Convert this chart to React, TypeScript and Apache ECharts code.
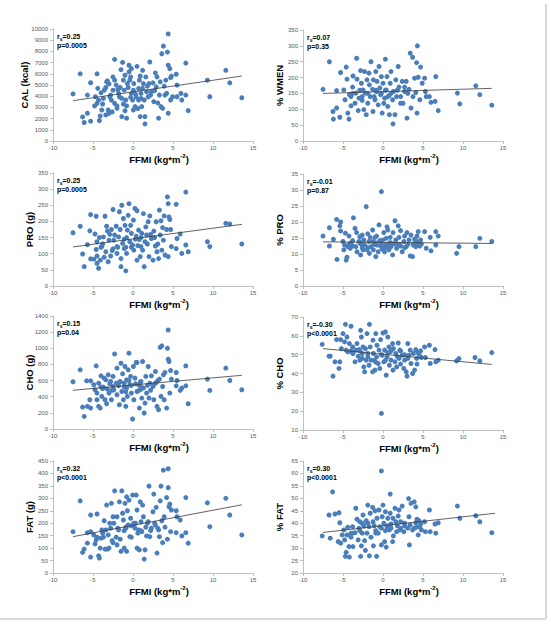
import React, { useEffect, useRef } from 'react';
import * as echarts from 'echarts';

const xAxisTitle = 'FFMI (kg*m{sup|-2})';
const yTitles = ['CAL (kcal)', '% WMEN', 'PRO (g)', '% PRO', 'CHO (g)', '% CHO', 'FAT (g)', '% FAT'];
const yMins = [0, 0, 0, 0, 0, 10, 0, 20];
const yMaxs = [10000, 350, 350, 35, 1400, 70, 450, 65];
const yIntervals = [1000, 50, 50, 5, 200, 10, 50, 5];
const rsValues = ['0.25', '0.07', '0.25', '-0.01', '0.15', '-0.30', '0.32', '0.30'];
const pValues = ['p=0.0005', 'p=0.35', 'p=0.0005', 'p=0.87', 'p=0.04', 'p<0.0001', 'p<0.0001', 'p<0.0001'];

const calData = [[-7.5,4200],[-6.6,6000],[-6.3,2150],[-6.1,1650],[-5.7,2480],[-5.3,5200],[-5.3,1770],[-5.7,4100],[-4.5,6000],[-4.7,3950],[-4.4,4700],[-4.3,3650],[-4.2,1830],[-4.1,2240],[-4.8,3130],[-4.5,3360],[-3.9,2770],[-3.7,3800],[-3.6,4540],[-3.4,4780],[-3.3,5280],[-3.2,5370],[-3.1,2770],[-3.0,2480],[-3.4,2330],[-2.9,3950],[-2.7,3650],[-2.5,4540],[-2.3,7290],[-2.5,5720],[-2.3,5430],[-2.1,4990],[-2.3,3360],[-2.0,3130],[-2.0,2920],[-1.8,4250],[-1.7,3950],[-1.6,4780],[-1.5,6370],[-1.4,3800],[-1.4,2180],[-1.3,7020],[-1.2,5430],[-1.1,4540],[-1.0,5870],[-0.9,3660],[-0.8,2040],[-0.8,3130],[-0.7,5130],[-0.6,4780],[-0.5,6170],[-0.5,6760],[-0.4,5430],[-0.3,5720],[-0.2,6460],[-0.2,4250],[-0.05,3660],[0.05,4540],[0.05,2770],[0.1,5130],[0.25,3070],[0.4,3950],[0.5,6670],[0.7,4690],[0.7,3660],[0.8,5430],[0.9,2180],[1.0,4250],[1.1,3070],[1.2,6310],[1.3,5130],[1.4,3660],[1.5,2180],[1.5,1530],[1.6,5720],[1.7,4400],[1.9,3950],[2.0,5130],[2.1,7050],[2.3,4400],[2.5,5190],[2.6,3510],[2.8,6080],[2.9,4840],[3.0,5720],[3.2,2040],[3.3,4100],[3.4,5280],[3.5,3070],[3.6,7790],[3.7,2920],[3.8,8470],[3.9,4900],[4.0,4100],[4.1,5430],[4.2,4250],[4.3,7940],[4.4,9560],[4.4,6760],[4.4,2480],[4.6,6460],[4.7,5660],[4.7,3660],[4.8,5780],[4.95,3950],[5.4,5960],[5.5,4990],[5.5,3950],[6.0,4250],[6.1,3660],[6.6,6960],[6.9,2710],[6.6,4100],[9.3,5430],[9.6,3950],[11.6,6310],[12.1,5190],[13.6,3860],[-3.8,3300],[-2.8,4100],[-1.9,4600],[-1.2,3300],[-0.3,3900],[0.3,4200],[1.0,3800],[1.8,4900],[2.2,4100],[-2.6,2600],[-1.0,2700],[0.6,2900],[1.2,4700],[2.7,4500],[3.1,3400],[-4.0,4300],[-3.0,5100],[0.9,5800]];

const wmenData = [[-7.5,163],[-6.7,250],[-6.25,93],[-6.2,69],[-5.8,159],[-5.3,216],[-5.4,75],[-5.8,104],[-4.9,161],[-4.75,130],[-4.6,233],[-4.5,195],[-4.4,88],[-4.25,69],[-4.2,146],[-4.0,111],[-3.8,170],[-3.75,205],[-3.5,119],[-3.4,151],[-3.3,261],[-3.25,195],[-3.1,96],[-3.0,135],[-2.8,222],[-2.7,182],[-2.6,128],[-2.5,161],[-2.4,99],[-2.3,219],[-2.2,151],[-2.1,83],[-2.0,193],[-1.9,119],[-1.75,214],[-1.7,177],[-1.6,140],[-1.5,250],[-1.3,163],[-1.25,93],[-1.2,193],[-1.0,130],[-0.9,219],[-0.8,156],[-0.75,188],[-0.6,114],[-0.5,235],[-0.4,167],[-0.3,146],[-0.2,203],[-0.1,88],[0.0,182],[0.1,119],[0.2,135],[0.3,258],[0.4,161],[0.5,203],[0.6,109],[0.75,143],[0.8,83],[0.9,182],[1.0,219],[1.2,130],[1.25,54],[1.3,156],[1.5,83],[1.6,193],[1.7,140],[1.9,235],[2.0,170],[2.2,119],[2.4,188],[2.5,119],[2.7,156],[2.9,188],[3.0,72],[3.25,163],[3.4,277],[3.5,104],[3.7,264],[3.75,140],[3.95,198],[4.1,153],[4.2,247],[4.25,88],[4.3,300],[4.4,201],[4.6,130],[4.7,233],[4.9,182],[5.2,198],[5.3,156],[5.4,140],[5.8,140],[6.0,122],[6.5,125],[6.6,203],[6.9,96],[9.3,151],[9.6,117],[11.6,174],[12.1,146],[13.6,113],[-3.8,150],[-2.9,160],[-1.9,150],[-1.1,140],[-0.2,150],[0.3,160],[1.0,150],[1.8,160],[2.2,140],[-2.6,140],[-0.9,160],[0.6,140],[2.7,170],[3.1,150],[-4.0,140]];

const proData = [[-7.5,165],[-6.6,185],[-6.3,99],[-6.1,60],[-5.7,128],[-5.3,221],[-5.4,171],[-5.3,84],[-4.9,83],[-4.75,161],[-4.6,216],[-4.6,113],[-4.5,70],[-4.5,93],[-4.3,55],[-4.5,137],[-4.2,150],[-4.1,80],[-3.9,122],[-3.7,152],[-3.6,89],[-3.5,216],[-3.4,106],[-3.3,185],[-3.2,170],[-3.1,75],[-3.0,142],[-2.8,93],[-2.7,175],[-2.5,115],[-2.5,237],[-2.4,142],[-2.3,158],[-2.1,185],[-2.0,101],[-2.0,122],[-1.8,152],[-1.7,230],[-1.6,175],[-1.5,60],[-1.5,85],[-1.4,250],[-1.3,132],[-1.2,209],[-1.1,116],[-1.0,188],[-0.9,47],[-0.8,150],[-0.8,101],[-0.7,173],[-0.6,219],[-0.5,255],[-0.4,137],[-0.3,188],[-0.2,163],[-0.05,127],[0.05,204],[0.1,111],[0.25,240],[0.4,154],[0.5,80],[0.5,233],[0.7,173],[0.8,144],[0.9,91],[1.0,122],[1.1,163],[1.2,111],[1.3,224],[1.4,60],[1.5,137],[1.6,183],[1.7,158],[1.9,199],[2.0,91],[2.1,217],[2.3,147],[2.5,80],[2.6,170],[2.8,124],[2.9,199],[3.0,106],[3.2,85],[3.3,235],[3.4,158],[3.5,202],[3.6,111],[3.7,181],[3.8,142],[3.9,217],[4.0,96],[4.2,175],[4.3,276],[4.4,255],[4.4,91],[4.5,214],[4.6,206],[4.7,175],[4.8,122],[5.4,253],[5.4,116],[5.5,147],[5.9,161],[6.1,101],[6.6,291],[6.6,127],[6.9,106],[9.3,137],[9.6,122],[11.6,194],[12.1,192],[13.6,130],[-3.8,130],[-2.9,160],[-1.9,120],[-1.1,145],[-0.2,120],[0.3,145],[1.0,150],[1.8,130],[2.2,160],[-2.6,110],[-0.9,120],[0.6,125],[2.7,150],[3.1,130],[-4.0,120]];

const proPctData = [[-7.5,15.6],[-6.7,18.2],[-6.7,12.5],[-6.2,14.6],[-5.8,20.8],[-5.75,8.3],[-5.4,18.8],[-5.3,17.2],[-5.3,20.0],[-5.0,13.9],[-4.9,11.3],[-4.8,12.8],[-4.7,16.5],[-4.6,8.1],[-4.5,9.0],[-4.4,12.3],[-4.25,15.6],[-4.2,13.1],[-4.1,11.8],[-3.8,14.2],[-3.7,21.3],[-3.5,18.0],[-3.4,12.3],[-3.3,16.7],[-3.25,10.7],[-3.0,13.9],[-2.9,15.4],[-2.8,9.7],[-2.7,13.0],[-2.6,15.9],[-2.5,11.3],[-2.4,14.4],[-2.3,12.8],[-2.1,24.8],[-2.0,11.3],[-1.9,16.3],[-1.75,13.9],[-1.7,10.2],[-1.6,15.2],[-1.5,12.3],[-1.3,17.5],[-1.25,13.9],[-1.2,11.3],[-1.0,15.2],[-0.9,9.2],[-0.8,15.6],[-0.75,12.8],[-0.6,10.7],[-0.5,19.1],[-0.4,14.2],[-0.3,12.5],[-0.2,29.5],[-0.1,11.5],[0.0,14.4],[0.1,16.7],[0.2,10.7],[0.3,12.8],[0.4,14.9],[0.5,18.5],[0.6,17.5],[0.75,11.3],[0.8,13.5],[0.9,15.2],[1.0,12.3],[1.2,9.7],[1.25,16.7],[1.3,13.1],[1.5,20.4],[1.6,14.4],[1.7,11.8],[1.9,18.8],[2.0,15.2],[2.1,12.8],[2.2,17.3],[2.4,10.7],[2.6,13.9],[2.7,15.6],[2.9,12.3],[3.0,16.7],[3.25,14.4],[3.4,9.4],[3.5,15.9],[3.7,9.2],[3.75,13.1],[3.95,14.6],[4.1,12.3],[4.2,13.9],[4.25,15.6],[4.4,17.0],[4.5,12.8],[4.7,14.4],[4.8,13.1],[5.2,17.0],[5.4,11.8],[5.9,15.2],[6.0,11.0],[6.6,17.0],[6.6,12.8],[6.9,15.6],[9.2,10.2],[9.5,12.3],[11.6,12.3],[12.1,14.9],[13.6,13.9],[-3.8,12.5],[-2.9,13.5],[-1.9,12],[-1.1,13],[-0.2,13],[0.3,12],[1.0,13.5],[1.8,13],[2.2,12.5],[-2.6,12],[-0.9,13.5],[0.6,12.5],[2.7,12],[3.1,13],[-4.0,13.5],[3.8,12.8],[4.3,13.2],[4.6,12.5]];

const choData = [[-7.5,585],[-6.6,733],[-6.3,272],[-6.1,156],[-5.7,280],[-5.8,597],[-5.3,597],[-5.3,259],[-5.4,362],[-4.9,548],[-4.75,486],[-4.6,782],[-4.5,445],[-4.5,362],[-4.3,280],[-4.3,568],[-4.1,259],[-4.0,659],[-3.9,404],[-3.7,519],[-3.6,630],[-3.5,362],[-3.4,609],[-3.3,313],[-3.2,494],[-3.1,671],[-3.0,445],[-2.8,589],[-2.7,362],[-2.5,527],[-2.5,651],[-2.4,486],[-2.3,930],[-2.1,568],[-2.0,754],[-2.0,424],[-1.8,535],[-1.7,300],[-1.6,589],[-1.5,815],[-1.4,465],[-1.3,684],[-1.2,362],[-1.1,568],[-1.0,774],[-0.9,280],[-0.8,507],[-0.8,609],[-0.7,404],[-0.6,733],[-0.5,939],[-0.4,548],[-0.3,651],[-0.2,445],[-0.05,124],[0.05,774],[0.1,362],[0.25,630],[0.4,824],[0.5,465],[0.5,824],[0.7,548],[0.8,259],[0.9,486],[1.0,589],[1.1,383],[1.2,836],[1.3,507],[1.4,198],[1.5,321],[1.6,651],[1.7,445],[1.9,774],[2.0,383],[2.1,568],[2.3,659],[2.5,527],[2.6,362],[2.8,712],[2.9,576],[3.0,280],[3.2,239],[3.3,618],[3.4,1013],[3.5,404],[3.6,1030],[3.7,527],[3.8,671],[3.9,362],[4.0,700],[4.2,259],[4.3,1000],[4.4,1227],[4.4,865],[4.5,836],[4.6,445],[4.7,725],[4.8,618],[5.4,700],[5.4,535],[5.5,601],[5.9,478],[6.1,507],[6.6,782],[6.6,535],[6.9,313],[9.3,618],[9.6,478],[11.6,754],[12.1,601],[13.6,486],[-3.8,500],[-2.9,560],[-1.9,560],[-1.1,520],[-0.2,540],[0.3,560],[1.0,520],[1.8,540],[2.2,480],[-2.6,480],[-0.9,460],[0.6,470],[2.7,560],[3.1,600],[-4.0,520],[0.9,580],[-1.7,580],[-0.5,600]];

const choPctData = [[-7.6,55.5],[-6.75,49.2],[-6.6,49.2],[-6.25,38.6],[-6.0,46.2],[-5.8,58.0],[-5.5,42.7],[-5.4,46.2],[-5.3,58.0],[-5.2,53.2],[-5.0,61.2],[-4.8,56.8],[-4.7,66.1],[-4.6,52.4],[-4.5,59.4],[-4.4,51.5],[-4.2,55.9],[-4.0,65.1],[-3.8,54.1],[-3.75,50.6],[-3.5,46.2],[-3.4,52.4],[-3.25,55.9],[-3.1,49.2],[-3.0,52.7],[-2.9,47.1],[-2.8,62.9],[-2.7,59.4],[-2.6,50.6],[-2.5,54.1],[-2.4,43.5],[-2.3,40.9],[-2.2,53.2],[-2.1,47.1],[-2.0,61.2],[-1.9,50.6],[-1.75,44.4],[-1.7,66.1],[-1.6,54.1],[-1.5,47.1],[-1.3,40.9],[-1.25,57.7],[-1.2,50.6],[-1.0,41.8],[-0.9,61.2],[-0.8,48.8],[-0.75,55.0],[-0.6,45.3],[-0.5,52.4],[-0.4,42.7],[-0.3,58.0],[-0.2,18.8],[-0.1,49.7],[0.0,61.5],[0.1,46.2],[0.2,52.4],[0.3,62.1],[0.4,39.1],[0.5,48.8],[0.6,59.4],[0.75,54.1],[0.8,44.4],[0.9,51.5],[1.0,47.1],[1.2,55.9],[1.25,41.8],[1.3,53.2],[1.5,46.2],[1.6,50.6],[1.7,43.5],[1.9,56.2],[2.0,48.0],[2.1,52.4],[2.2,45.0],[2.4,49.7],[2.6,42.7],[2.7,47.1],[2.9,40.9],[3.0,38.6],[3.1,55.9],[3.25,49.7],[3.4,52.4],[3.5,45.3],[3.7,40.0],[3.8,50.6],[3.95,41.8],[4.1,52.7],[4.2,48.0],[4.25,45.0],[4.4,51.1],[4.5,50.2],[4.7,52.0],[4.8,48.5],[5.2,54.1],[5.3,48.5],[5.8,55.0],[5.9,45.3],[6.5,52.7],[6.6,46.2],[6.9,47.1],[9.2,46.7],[9.5,47.9],[11.5,48.5],[12.1,46.7],[13.6,51.1],[-3.8,51],[-2.9,52],[-1.9,49],[-1.1,47],[-0.2,50],[0.3,47],[1.0,52],[1.8,49],[2.2,52],[-2.6,48],[-0.9,46],[0.6,51],[2.7,50],[3.1,48],[-4.0,52]];

const fatData = [[-7.5,166],[-6.6,290],[-6.3,83],[-6.1,96],[-5.7,120],[-5.7,162],[-5.3,233],[-5.3,166],[-5.3,64],[-4.9,153],[-4.75,117],[-4.5,237],[-4.6,133],[-4.5,144],[-4.3,69],[-4.2,60],[-4.1,100],[-3.9,173],[-3.7,144],[-3.6,210],[-3.5,96],[-3.4,173],[-3.3,273],[-3.2,96],[-3.1,153],[-3.0,100],[-2.8,180],[-2.7,280],[-2.5,226],[-2.5,122],[-2.4,200],[-2.3,330],[-2.1,144],[-2.0,226],[-2.0,113],[-1.8,173],[-1.7,286],[-1.6,136],[-1.5,87],[-1.4,330],[-1.3,240],[-1.2,213],[-1.1,100],[-1.0,280],[-0.9,184],[-0.8,87],[-0.8,306],[-0.7,250],[-0.6,193],[-0.5,293],[-0.4,146],[-0.3,220],[-0.2,144],[-0.05,313],[0.05,193],[0.1,200],[0.25,180],[0.4,313],[0.5,253],[0.5,100],[0.7,173],[0.8,93],[0.9,286],[1.0,206],[1.1,166],[1.2,273],[1.3,226],[1.4,56],[1.5,93],[1.6,184],[1.7,149],[1.9,206],[2.0,349],[2.1,146],[2.3,180],[2.5,246],[2.6,317],[2.8,193],[2.9,264],[3.0,80],[3.2,173],[3.3,146],[3.4,290],[3.5,349],[3.6,210],[3.7,122],[3.8,413],[3.9,226],[4.0,184],[4.2,303],[4.3,136],[4.4,419],[4.4,343],[4.5,266],[4.6,277],[4.7,166],[4.8,253],[5.4,250],[5.4,162],[5.5,226],[5.9,213],[6.1,149],[6.6,303],[6.6,162],[6.9,120],[9.3,282],[9.6,186],[11.6,300],[12.1,233],[13.6,153],[-3.8,160],[-2.9,200],[-1.9,180],[-1.1,170],[-0.2,190],[0.3,200],[1.0,170],[1.8,200],[2.2,170],[-2.6,130],[-0.9,180],[0.6,160],[2.7,200],[3.1,180],[-4.0,140]];

const fatPctData = [[-7.6,34.9],[-6.75,43.3],[-6.6,34.0],[-6.3,52.6],[-6.0,43.7],[-5.6,32.6],[-5.5,44.2],[-5.4,40.2],[-5.3,32.0],[-5.1,35.3],[-4.9,37.3],[-4.8,33.3],[-4.7,26.7],[-4.6,28.3],[-4.5,35.3],[-4.4,38.4],[-4.25,30.6],[-4.2,26.4],[-4.0,34.4],[-3.8,38.6],[-3.75,30.6],[-3.5,36.2],[-3.4,46.0],[-3.25,41.6],[-3.1,33.3],[-3.0,38.0],[-2.9,40.6],[-2.8,26.7],[-2.7,30.9],[-2.6,36.0],[-2.5,43.3],[-2.4,38.9],[-2.3,33.0],[-2.2,29.1],[-2.1,41.0],[-2.0,36.0],[-1.9,47.3],[-1.75,38.6],[-1.7,26.9],[-1.6,44.0],[-1.5,34.4],[-1.3,46.4],[-1.25,40.6],[-1.2,30.9],[-1.0,45.0],[-0.9,36.0],[-0.8,26.7],[-0.75,42.0],[-0.6,36.0],[-0.5,45.3],[-0.4,38.6],[-0.2,61.0],[-0.2,31.3],[-0.1,42.6],[0.0,47.3],[0.1,40.0],[0.2,32.6],[0.3,44.6],[0.4,30.4],[0.5,38.6],[0.6,42.0],[0.9,51.7],[0.8,37.3],[0.9,44.0],[1.0,39.7],[1.2,32.6],[1.25,42.0],[1.3,34.9],[1.5,46.0],[1.6,40.6],[1.7,36.6],[1.9,42.9],[2.0,45.3],[2.1,37.3],[2.2,40.6],[2.4,46.9],[2.6,36.6],[2.7,38.9],[3.2,49.9],[3.3,31.3],[3.25,42.6],[3.4,39.3],[3.5,48.0],[3.7,37.3],[3.9,48.6],[4.1,46.6],[4.1,40.2],[4.2,38.4],[4.25,41.6],[4.4,35.3],[4.5,41.0],[4.7,39.7],[4.8,37.3],[5.2,40.6],[5.3,36.6],[5.8,45.3],[5.9,36.6],[6.5,39.7],[6.6,36.0],[6.9,40.2],[9.3,46.9],[9.6,42.0],[11.6,43.0],[12.1,40.6],[13.6,36.2],[-3.8,36],[-2.9,37],[-1.9,40],[-1.1,39],[-0.2,38],[0.3,37],[1.0,38],[1.8,39],[2.2,38],[-2.6,40],[-0.9,37],[0.6,39],[2.7,40],[3.1,38],[-4.0,36],[3.9,38],[4.6,38.5]];

const calFit = [[-7.5,3600],[13.6,5800]];
const wmenFit = [[-7.5,150],[13.6,166]];
const proFit = [[-7.5,121],[13.6,191]];
const proPctFit = [[-7.5,13.8],[13.6,13.3]];
const choFit = [[-7.5,480],[13.6,665]];
const choPctFit = [[-7.5,53.2],[13.6,44.8]];
const fatFit = [[-7.5,146],[13.6,274]];
const fatPctFit = [[-7.5,36.3],[14.0,44.0]];

const scatterSets = [calData, wmenData, proData, proPctData, choData, choPctData, fatData, fatPctData];
const fitSets = [calFit, wmenFit, proFit, proPctFit, choFit, choPctFit, fatFit, fatPctFit];

const FONT = '"Liberation Sans", Arial, sans-serif';

export default function App() {
  const ref = useRef<HTMLDivElement>(null);
  useEffect(() => {
    if (!ref.current) return;
    const chart = echarts.init(ref.current, null, { renderer: 'svg' });
    const lefts = [53, 303];
    const tops = [29, 30, 173, 174, 316, 317, 461, 461];
    const heights = [112, 111, 113, 112, 113, 113, 112, 112];
    const axisColor = '#bfbfbf';
    const labelColor = '#595959';

    const grid = scatterSets.map((_, i) => ({
      left: lefts[i % 2], top: tops[i], width: 200, height: heights[i], containLabel: false,
    }));
    const xAxis = scatterSets.map((_, i) => ({
      gridIndex: i, type: 'value', min: -10, max: 15, interval: 5,
      axisLine: { show: true, onZero: false, lineStyle: { color: axisColor, width: 1 } },
      axisTick: { show: true, length: 3, lineStyle: { color: axisColor } },
      axisLabel: { fontSize: 6, color: labelColor, margin: 4, fontFamily: FONT, formatter: (v: number) => String(v) },
      splitLine: { show: false },
      name: xAxisTitle, nameLocation: 'middle', nameGap: 12, nameMoveOverlap: false,
      nameTextStyle: {
        fontSize: 9.5, fontWeight: 'bold', color: '#000', fontFamily: FONT, lineHeight: 12,
        padding: [0, 0, 0, 12],
        rich: { sup: { fontSize: 6, fontWeight: 'bold', color: '#000', fontFamily: FONT, verticalAlign: 'top', lineHeight: 6 } },
      },
    }));
    const yAxis = scatterSets.map((_, i) => ({
      gridIndex: i, type: 'value', min: yMins[i], max: yMaxs[i], interval: yIntervals[i],
      axisLine: { show: true, onZero: false, lineStyle: { color: axisColor, width: 1 } },
      axisTick: { show: true, length: 3, lineStyle: { color: axisColor } },
      axisLabel: { fontSize: 6, color: labelColor, margin: 5, fontFamily: FONT, formatter: (v: number) => String(v) },
      splitLine: { show: false },
      name: yTitles[i], nameLocation: 'middle', nameGap: i === 0 ? 24 : 19, nameMoveOverlap: false,
      nameTextStyle: { fontSize: 9.5, fontWeight: 'bold', color: '#000', fontFamily: FONT },
    }));
    const series: any[] = [];
    scatterSets.forEach((d, i) => {
      series.push({
        type: 'scatter', xAxisIndex: i, yAxisIndex: i, data: d,
        symbol: 'circle', symbolSize: 5,
        itemStyle: { color: '#4a7ebb', opacity: 1 },
      });
      series.push({
        type: 'line', xAxisIndex: i, yAxisIndex: i, data: fitSets[i],
        showSymbol: false, symbol: 'none',
        lineStyle: { color: '#3a3a3a', width: 0.8 },
      });
    });
    const richStyles = {
      a: { fontSize: 7, fontWeight: 'bold', fontFamily: FONT, fill: '#000', lineHeight: 9 },
      b: { fontSize: 5, fontWeight: 'bold', fontFamily: FONT, fill: '#000', lineHeight: 4, verticalAlign: 'bottom' },
    };
    const graphic: any[] = [];
    scatterSets.forEach((_, i) => {
      const x = lefts[i % 2] + 4;
      const y = tops[i] + 3;
      graphic.push({
        type: 'text', x, y,
        style: {
          text: '{a|r}{b|s}{a|=' + rsValues[i] + '}',
          verticalAlign: 'top', fill: '#000',
          rich: richStyles,
        },
      });
      graphic.push({
        type: 'text', x, y: y + 9,
        style: { text: '{a|' + pValues[i] + '}', verticalAlign: 'top', fill: '#000', rich: richStyles },
      });
    });
    graphic.push({ type: 'line', shape: { x1: 546, y1: 4, x2: 546, y2: 619 }, style: { stroke: '#d9d9d9', lineWidth: 2 } });
    graphic.push({ type: 'line', shape: { x1: 0, y1: 619, x2: 546, y2: 619 }, style: { stroke: '#d9d9d9', lineWidth: 2 } });

    chart.setOption({
      animation: false,
      backgroundColor: '#ffffff',
      grid, xAxis, yAxis, series, graphic,
    } as any);
    return () => chart.dispose();
  }, []);
  return <div ref={ref} style={{ position: 'fixed', left: 0, top: 0, width: 551, height: 624, background: '#fff' }} />;
}
